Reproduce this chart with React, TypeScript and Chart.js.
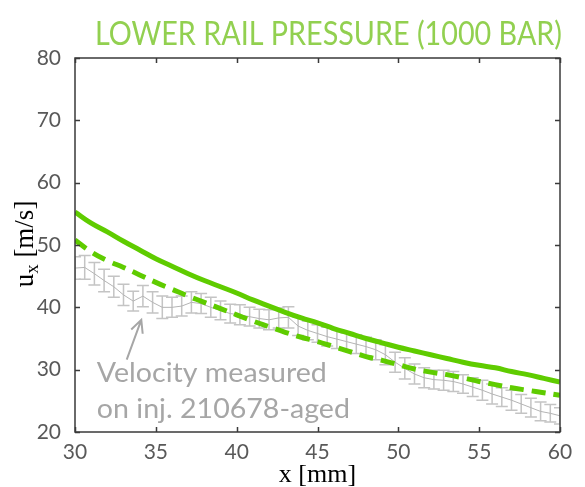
import React, { useEffect, useRef } from 'react';
import { Chart, registerables } from 'chart.js';

Chart.register(...registerables);

// ---------------- data ----------------
const TITLE = 'LOWER RAIL PRESSURE (1000 BAR)';
const X_TICKS = [30, 35, 40, 45, 50, 55, 60];
const Y_TICKS = [20, 30, 40, 50, 60, 70, 80];

const curveX = [30, 31, 32, 33, 34, 35, 36, 37, 38, 39, 40, 41, 42, 43, 44, 45, 46, 47, 48, 49, 50, 51, 52, 53, 54, 55, 56, 57, 58, 59, 60];
const simSolid = [55.3, 53.5, 52.1, 50.6, 49.2, 47.8, 46.6, 45.4, 44.3, 43.3, 42.3, 41.2, 40.2, 39.2, 38.3, 37.5, 36.6, 35.8, 35.0, 34.3, 33.6, 33.0, 32.4, 31.8, 31.2, 30.7, 30.3, 29.7, 29.2, 28.6, 28.0];
const simDashed = [50.8, 48.9, 47.5, 46.4, 45.2, 44.0, 42.9, 41.8, 40.8, 39.8, 38.8, 37.8, 36.9, 36.0, 35.2, 34.5, 33.7, 32.9, 32.1, 31.5, 30.8, 30.1, 29.6, 29.2, 28.7, 28.1, 27.6, 27.1, 26.7, 26.3, 25.9];

const measX = [30.0, 30.6, 31.2, 31.8, 32.4, 33.0, 33.6, 34.2, 34.8, 35.4, 36.0, 36.6, 37.2, 37.8, 38.4, 39.0, 39.6, 40.2, 40.8, 41.4, 42.0, 42.6, 43.2, 43.8, 44.4, 45.0, 45.6, 46.2, 46.8, 47.4, 48.0, 48.6, 49.2, 49.8, 50.4, 51.0, 51.6, 52.2, 52.8, 53.4, 54.0, 54.6, 55.2, 55.8, 56.4, 57.0, 57.6, 58.2, 58.8, 59.4, 60.0];
const measMean = [46.3, 46.4, 45.4, 44.3, 43.3, 42.0, 41.0, 41.8, 40.8, 40.0, 40.0, 40.2, 40.8, 40.6, 40.0, 39.5, 39.0, 38.8, 38.5, 38.2, 38.0, 38.3, 38.4, 37.0, 36.3, 35.8, 35.3, 34.9, 34.5, 34.1, 33.7, 33.2, 32.4, 31.2, 30.2, 29.3, 28.7, 28.4, 28.3, 28.1, 27.7, 27.2, 26.7, 26.1, 25.6, 25.1, 24.5, 23.9, 23.3, 23.0, 22.6];
const measErr = [1.8, 1.9, 1.8, 1.8, 1.7, 1.7, 1.6, 1.7, 1.7, 1.8, 1.6, 1.6, 1.7, 1.6, 1.6, 1.5, 1.5, 1.6, 1.5, 1.5, 1.6, 1.6, 1.7, 1.5, 1.5, 1.4, 1.5, 1.5, 1.4, 1.5, 1.5, 1.6, 1.6, 1.6, 1.7, 1.6, 1.6, 1.5, 1.6, 1.6, 1.5, 1.5, 1.6, 1.6, 1.5, 1.6, 1.5, 1.5, 1.5, 1.4, 1.3];

const NOTE_LINES = ['Velocity measured', 'on inj. 210678-aged'];
// annotation anchors in data units
const NOTE_X = 31.35;
const NOTE_Y = [28.0, 22.25];
const ARROW_FROM = [33.2, 31.6];
const ARROW_TO = [34.1, 38.0];

const GREEN = '#5fcc00';
const GREY = '#c4c4c4';
const MEAN_GREY = '#b4b4b4';
const NOTE_GREY = '#a6a6a6';
const TICK_COLOR = '#595959';
const FRAME = '#3a3a3a';
const SANS = 'Lato, "Open Sans", sans-serif';
const SERIF = '"Liberation Serif", "DejaVu Serif", serif';

function fillFitted(ctx: CanvasRenderingContext2D, text: string, x: number, y: number, sx: number) {
  ctx.save();
  ctx.translate(x, y);
  ctx.scale(sx, 1);
  ctx.fillText(text, 0, 0);
  ctx.restore();
}

const decorPlugin = {
  id: 'decor',
  beforeDatasetsDraw(chart: any) {
    const { ctx, chartArea, scales } = chart;
    const xs = scales.x;
    const ys = scales.y;
    ctx.save();
    ctx.beginPath();
    ctx.rect(chartArea.left, chartArea.top, chartArea.right - chartArea.left, chartArea.bottom - chartArea.top);
    ctx.clip();
    ctx.strokeStyle = GREY;
    ctx.lineWidth = 1.5;
    const cap = 6;
    for (let i = 0; i < measX.length; i++) {
      const px = xs.getPixelForValue(measX[i]);
      const pTop = ys.getPixelForValue(measMean[i] + measErr[i]);
      const pBot = ys.getPixelForValue(measMean[i] - measErr[i]);
      ctx.beginPath();
      ctx.moveTo(px, pTop);
      ctx.lineTo(px, pBot);
      ctx.moveTo(px - cap, pTop);
      ctx.lineTo(px + cap, pTop);
      ctx.moveTo(px - cap, pBot);
      ctx.lineTo(px + cap, pBot);
      ctx.stroke();
    }
    ctx.restore();
  },
  afterDraw(chart: any) {
    const { ctx, chartArea, scales } = chart;
    const xs = scales.x;
    const ys = scales.y;
    const { left, right, top, bottom } = chartArea;
    ctx.save();
    // frame
    ctx.strokeStyle = FRAME;
    ctx.lineWidth = 1.5;
    ctx.strokeRect(left, top, right - left, bottom - top);
    // inward ticks
    const tl = 5;
    ctx.beginPath();
    X_TICKS.forEach((v) => {
      const p = Math.round(xs.getPixelForValue(v)) + 0.5;
      ctx.moveTo(p, bottom);
      ctx.lineTo(p, bottom - tl);
      ctx.moveTo(p, top);
      ctx.lineTo(p, top + tl);
    });
    Y_TICKS.forEach((v) => {
      const p = Math.round(ys.getPixelForValue(v)) + 0.5;
      ctx.moveTo(left, p);
      ctx.lineTo(left + tl, p);
      ctx.moveTo(right, p);
      ctx.lineTo(right - tl, p);
    });
    ctx.stroke();

    // title (fitted to the reference width)
    ctx.fillStyle = '#92d050';
    ctx.font = `33px ${SANS}`;
    ctx.textAlign = 'left';
    ctx.textBaseline = 'alphabetic';
    const tw = ctx.measureText(TITLE).width;
    fillFitted(ctx, TITLE, 95, 45, 467 / tw);

    // y axis title with subscript
    ctx.save();
    ctx.translate(33, 244);
    ctx.rotate(-Math.PI / 2);
    ctx.fillStyle = '#000';
    const big = `27px ${SERIF}`;
    const small = `19px ${SERIF}`;
    ctx.font = big;
    const wU = ctx.measureText('u').width;
    const wRest = ctx.measureText(' [m/s]').width;
    ctx.font = small;
    const wX = ctx.measureText('x').width;
    const total = wU + wX + wRest;
    let cx = -total / 2;
    ctx.textAlign = 'left';
    ctx.font = big;
    ctx.fillText('u', cx, 0);
    cx += wU;
    ctx.font = small;
    ctx.fillText('x', cx, 5);
    cx += wX;
    ctx.font = big;
    ctx.fillText(' [m/s]', cx, 0);
    ctx.restore();

    // annotation
    ctx.fillStyle = NOTE_GREY;
    ctx.font = `27px ${SANS}`;
    ctx.textAlign = 'left';
    const nx = xs.getPixelForValue(NOTE_X);
    const sx = 230 / ctx.measureText(NOTE_LINES[0]).width;
    NOTE_LINES.forEach((t, i) => {
      fillFitted(ctx, t, nx, ys.getPixelForValue(NOTE_Y[i]), sx);
    });
    // arrow
    const ax0 = xs.getPixelForValue(ARROW_FROM[0]);
    const ay0 = ys.getPixelForValue(ARROW_FROM[1]);
    const ax1 = xs.getPixelForValue(ARROW_TO[0]);
    const ay1 = ys.getPixelForValue(ARROW_TO[1]);
    const ang = Math.atan2(ay1 - ay0, ax1 - ax0);
    const hl = 14;
    ctx.strokeStyle = NOTE_GREY;
    ctx.lineWidth = 2;
    ctx.beginPath();
    ctx.moveTo(ax0, ay0);
    ctx.lineTo(ax1, ay1);
    ctx.moveTo(ax1 - hl * Math.cos(ang - 0.45), ay1 - hl * Math.sin(ang - 0.45));
    ctx.lineTo(ax1, ay1);
    ctx.lineTo(ax1 - hl * Math.cos(ang + 0.45), ay1 - hl * Math.sin(ang + 0.45));
    ctx.stroke();
    ctx.restore();
  },
};

export default function App() {
  const ref = useRef<HTMLCanvasElement | null>(null);
  useEffect(() => {
    if (!ref.current) return;
    const chart = new Chart(ref.current, {
      type: 'line',
      data: {
        datasets: [
          {
            label: 'Simulation',
            data: curveX.map((x, i) => ({ x, y: simSolid[i] })),
            borderColor: GREEN,
            borderWidth: 5,
            pointRadius: 0,
            tension: 0.4,
            fill: false,
            order: 0,
          },
          {
            label: 'Simulation (dashed)',
            data: curveX.map((x, i) => ({ x, y: simDashed[i] })),
            borderColor: GREEN,
            borderWidth: 5,
            borderDash: [14, 8],
            pointRadius: 0,
            tension: 0.4,
            fill: false,
            order: 1,
          },
          {
            label: 'Measured',
            data: measX.map((x, i) => ({ x, y: measMean[i] })),
            borderColor: MEAN_GREY,
            borderWidth: 1,
            pointRadius: 0,
            tension: 0,
            fill: false,
            order: 2,
          },
        ],
      },
      options: {
        responsive: false,
        animation: false,
        devicePixelRatio: 1,
        layout: { padding: { top: 58, right: 25, left: 0, bottom: 0 } },
        plugins: { legend: { display: false }, tooltip: { enabled: false }, title: { display: false } },
        scales: {
          x: {
            type: 'linear',
            min: 30,
            max: 60,
            afterFit: (s: any) => { s.height = 55; },
            afterBuildTicks: (s: any) => { s.ticks = X_TICKS.map((v) => ({ value: v })); },
            grid: { display: false },
            border: { display: false },
            ticks: { color: TICK_COLOR, font: { family: SANS, size: 21 }, padding: 0, maxRotation: 0, autoSkip: false },
            title: { display: true, text: 'x [mm]', color: '#000', font: { family: SERIF, size: 26 }, padding: { top: 0, bottom: -4 } },
          },
          y: {
            type: 'linear',
            min: 20,
            max: 80,
            afterFit: (s: any) => { s.width = 75; },
            afterBuildTicks: (s: any) => { s.ticks = Y_TICKS.map((v) => ({ value: v })); },
            grid: { display: false },
            border: { display: false },
            ticks: { color: TICK_COLOR, font: { family: SANS, size: 21 }, padding: 6 },
          },
        },
      },
      plugins: [decorPlugin],
    });
    return () => chart.destroy();
  }, []);
  return (
    <div style={{ position: 'absolute', left: 0, top: 0, width: 585, height: 487, background: '#fff' }}>
      <canvas ref={ref} width={585} height={487} style={{ width: 585, height: 487 }} />
    </div>
  );
}
